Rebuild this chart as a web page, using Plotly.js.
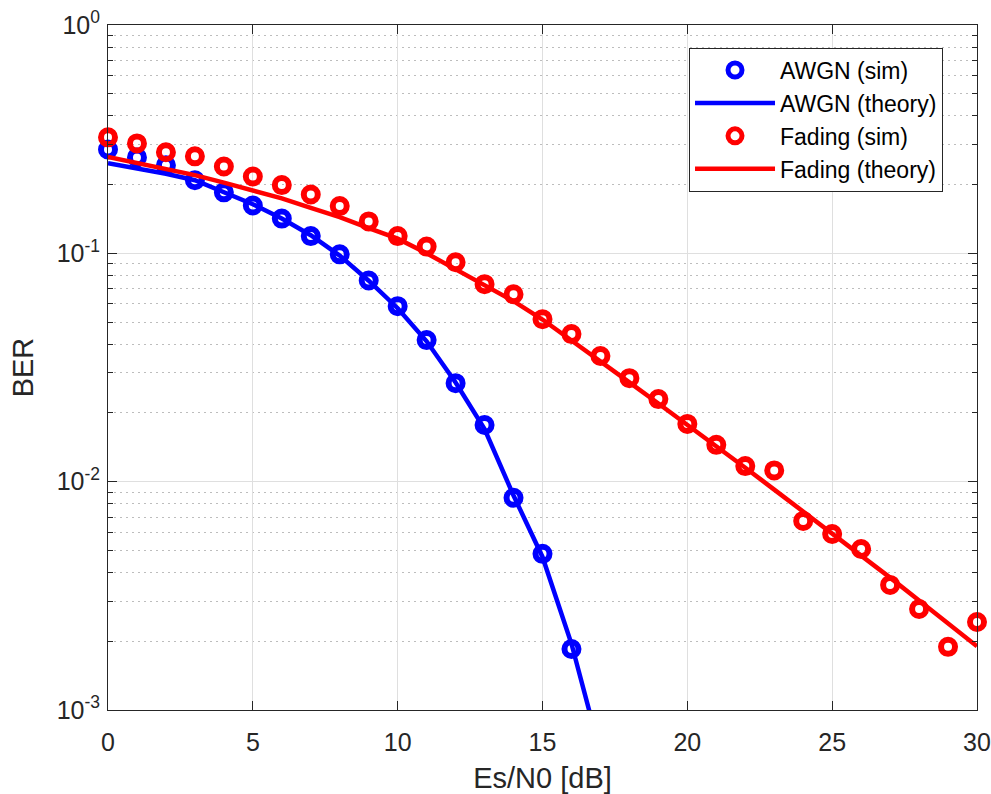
<!DOCTYPE html>
<html>
<head>
<meta charset="utf-8">
<script src="https://cdn.plot.ly/plotly-3.0.1.min.js"></script>
<style>
  html, body { margin: 0; padding: 0; background: #ffffff; }
  #chart { width: 991px; height: 794px; }
</style>
</head>
<body>
<div id="chart"></div>
<script>
// Es/N0 values [dB]
const snrSim = [0,1,2,3,4,5,6,7,8,9,10,11,12,13,14,15,16,17,18,19,20,21,22,23,24,25,26,27,28,29,30];

// AWGN simulated BER
const awgnSimX = [0,1,2,3,4,5,6,7,8,9,10,11,12,13,14,15,16];
const awgnSim = [0.285,0.263,0.243,0.209,0.185,0.162,0.142,0.119,0.099,0.076,0.0587,0.0417,0.027,0.0177,0.0085,0.00483,0.00185];

// AWGN theoretical BER (curve)
const awgnTheoryX = [0,1,2,3,4,5,6,7,8,9,10,11,12,13,14,15,16,16.6,17];
const awgnTheory = [0.248,0.236,0.223,0.209,0.186,0.164,0.142,0.120,0.0977,0.0759,0.0575,0.0412,0.0272,0.0170,0.0087,0.00468,0.00195,0.001,0.00065];

// Fading simulated BER
const fadingSim = [0.322,0.303,0.277,0.266,0.240,0.217,0.199,0.181,0.161,0.138,0.119,0.107,0.0914,0.0733,0.0662,0.0515,0.0443,0.0355,0.0284,0.023,0.0179,0.0145,0.0117,0.0112,0.00673,0.0059,0.00507,0.00353,0.00277,0.00189,0.00243];

// Fading theoretical BER
const fadingTheory = [0.264,0.249,0.234,0.220,0.204,0.189,0.174,0.158,0.144,0.129,0.116,0.100,0.0851,0.0724,0.0617,0.0513,0.0417,0.0339,0.0272,0.0220,0.0178,0.0143,0.0115,0.00923,0.00741,0.00596,0.00479,0.0038,0.00302,0.0024,0.0019];

const xTicks = [0,5,10,15,20,25,30];
const yTickVals = [1,0.1,0.01,0.001];
const yTickText = ['10<sup>0</sup>','10<sup>-1</sup>','10<sup>-2</sup>','10<sup>-3</sup>'];

const BLUE = '#0000ff';
const RED = '#ff0000';
const FONT = 'Liberation Sans, Arial, Helvetica, sans-serif';

const traces = [
  {x: awgnSimX, y: awgnSim, name: 'AWGN (sim)', mode: 'markers', type: 'scatter',
   marker: {symbol: 'circle-open', size: 14, color: BLUE, line: {width: 6, color: BLUE}}, cliponaxis: false},
  {x: awgnTheoryX, y: awgnTheory, name: 'AWGN (theory)', mode: 'lines', type: 'scatter',
   line: {color: BLUE, width: 4.5}},
  {x: snrSim, y: fadingSim, name: 'Fading (sim)', mode: 'markers', type: 'scatter',
   marker: {symbol: 'circle-open', size: 14, color: RED, line: {width: 6, color: RED}}, cliponaxis: false},
  {x: snrSim, y: fadingTheory, name: 'Fading (theory)', mode: 'lines', type: 'scatter',
   line: {color: RED, width: 4.5}}
];

const layout = {
  width: 991, height: 794,
  margin: {l: 108, r: 14, t: 25, b: 84},
  paper_bgcolor: '#ffffff', plot_bgcolor: '#ffffff',
  font: {family: FONT, color: '#262626', size: 25},
  showlegend: true,
  legend: {
    x: 0.6686, y: 0.967, xanchor: 'left', yanchor: 'top',
    bgcolor: '#ffffff', bordercolor: '#262626', borderwidth: 1,
    font: {family: FONT, size: 23, color: '#000000'},
    itemwidth: 80, tracegroupgap: 0
  },
  xaxis: {
    range: [0, 30], tickvals: xTicks, ticks: 'inside', ticklen: 9, tickcolor: '#262626',
    showline: true, linecolor: '#262626', linewidth: 1, mirror: 'ticks',
    showgrid: true, gridcolor: '#dfdfdf', gridwidth: 1, zeroline: false,
    tickfont: {family: FONT, size: 25, color: '#262626'},
    ticklabelstandoff: 10,
    title: {text: 'Es/N0 [dB]', font: {family: FONT, size: 29, color: '#262626'}, standoff: 14}
  },
  yaxis: {
    type: 'log', range: [-3, 0], tickvals: yTickVals, ticktext: yTickText,
    ticks: 'inside', ticklen: 9, tickcolor: '#262626',
    showline: true, linecolor: '#262626', linewidth: 1, mirror: 'ticks',
    showgrid: true, gridcolor: '#dfdfdf', gridwidth: 1, zeroline: false,
    tickfont: {family: FONT, size: 25, color: '#262626'},
    ticklabelstandoff: 2,
    title: {text: 'BER', font: {family: FONT, size: 29, color: '#262626'}, standoff: 14},
    minor: {dtick: 'D1', showgrid: true, gridcolor: '#bdbdbd', griddash: '1.5px,4.5px', gridwidth: 1,
            ticks: 'inside', ticklen: 5, tickcolor: '#262626'}
  }
};

Plotly.newPlot('chart', traces, layout, {displayModeBar: false, staticPlot: true});
</script>
</body>
</html>
